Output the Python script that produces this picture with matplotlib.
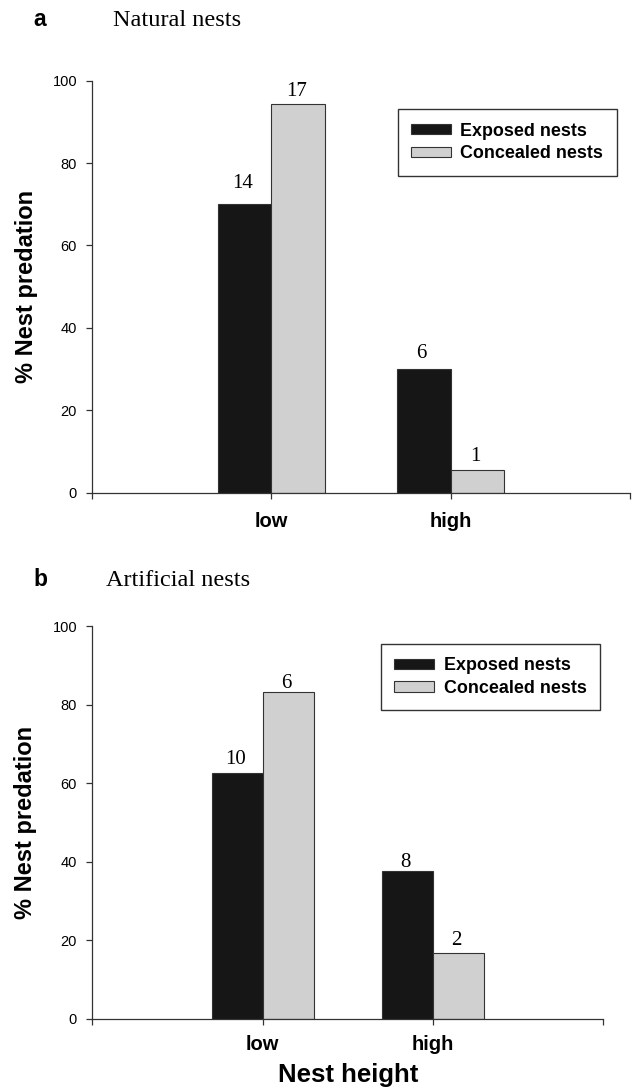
import matplotlib.pyplot as plt
import numpy as np

# categories and series
heights = ["low", "high"]
series = ["Exposed nests", "Concealed nests"]

# panel a: natural nests (% predation and sample sizes)
natural_exposed = [70.0, 30.0]
natural_concealed = [94.4, 5.6]
natural_n_exposed = [14, 6]
natural_n_concealed = [17, 1]

# panel b: artificial nests
artificial_exposed = [62.5, 37.5]
artificial_concealed = [83.3, 16.7]
artificial_n_exposed = [10, 8]
artificial_n_concealed = [6, 2]

W, H = 633, 1090
BLACK = "#161616"
GREY = "#d0d0d0"
EDGE = "#333333"
SANS = "Liberation Sans"
SERIF = "Liberation Serif"

plt.rcParams["font.family"] = SANS
plt.rcParams["axes.edgecolor"] = EDGE
plt.rcParams["axes.linewidth"] = 0.9


def draw_panel(ax, exposed, concealed, n_exp, n_con, gaps_exp, gaps_con,
               legend_xy, xpad, ylab_x):
    x = np.arange(1, len(heights) + 1)
    w = 0.3
    ax.bar(x - w / 2, exposed, w, color=BLACK, edgecolor=EDGE, linewidth=0.8,
           label=series[0])
    ax.bar(x + w / 2, concealed, w, color=GREY, edgecolor=EDGE, linewidth=0.8,
           label=series[1])

    # sample sizes above bars
    for xi, h, n, g in zip(x - w / 2, exposed, n_exp, gaps_exp):
        ax.annotate(str(n), (xi, h), xytext=(-2, g), textcoords="offset pixels",
                    ha="center", va="baseline", family=SERIF, fontsize=15)
    for xi, h, n, g in zip(x + w / 2, concealed, n_con, gaps_con):
        ax.annotate(str(n), (xi, h), xytext=(-2, g), textcoords="offset pixels",
                    ha="center", va="baseline", family=SERIF, fontsize=15)

    ax.set_xlim(0, len(heights) + 1)
    ax.set_ylim(0, 100)
    ax.set_xticks(np.arange(0, len(heights) + 2))
    ax.set_xticklabels([""] + heights + [""], fontsize=14.5, fontweight="bold")
    ax.set_yticks(np.arange(0, 101, 20))
    ax.tick_params(axis="y", length=4, width=0.9, pad=7, labelsize=10.5,
                   colors=EDGE, labelcolor="black")
    ax.tick_params(axis="x", length=4, width=0.9, pad=xpad, colors=EDGE,
                   labelcolor="black")
    ax.spines["top"].set_visible(False)
    ax.spines["right"].set_visible(False)

    ax.set_ylabel("% Nest predation", fontsize=17, fontweight="bold", va="center")
    ax.yaxis.set_label_coords(ylab_x, 0.5)

    leg = ax.legend(loc="upper right",
                    bbox_to_anchor=(legend_xy[0] / W, 1 - legend_xy[1] / H),
                    bbox_transform=ax.figure.transFigure, borderaxespad=0,
                    fancybox=False, framealpha=1, edgecolor=EDGE,
                    prop={"family": SANS, "weight": "bold", "size": 12.9},
                    handlelength=2.2, handleheight=0.5, handletextpad=0.55,
                    labelspacing=0.3, borderpad=0.75)
    leg.get_frame().set_linewidth(1.0)


fig = plt.figure(figsize=(W / 100, H / 100), dpi=100)

ax_a = fig.add_axes([92.3 / W, 1 - 492.7 / H, 537.4 / W, 412 / H])
draw_panel(ax_a, natural_exposed, natural_concealed,
           natural_n_exposed, natural_n_concealed,
           [16, 11], [8, 9], (616.7, 109.3), 10, -0.123)

ax_b = fig.add_axes([92.3 / W, 1 - 1018.7 / H, 511 / W, 392.7 / H])
draw_panel(ax_b, artificial_exposed, artificial_concealed,
           artificial_n_exposed, artificial_n_concealed,
           [9, 4], [4, 8], (600, 644), 7.5, -0.13)
ax_b.set_xlabel("Nest height", fontsize=18.5, fontweight="bold", va="center")
ax_b.xaxis.set_label_coords(0.5, -0.1434)

# panel letters and titles
fig.text(40 / W, 1 - 26.5 / H, "a", ha="center", va="baseline",
         fontsize=16.5, fontweight="bold")
fig.text(113 / W, 1 - 26 / H, "Natural nests", va="baseline",
         family=SERIF, fontsize=17.5)
fig.text(40 / W, 1 - 586.5 / H, "b", ha="center", va="baseline",
         fontsize=16.5, fontweight="bold")
fig.text(106 / W, 1 - 586.5 / H, "Artificial nests", va="baseline",
         family=SERIF, fontsize=17.5)

fig.savefig("out.png", dpi=100)
